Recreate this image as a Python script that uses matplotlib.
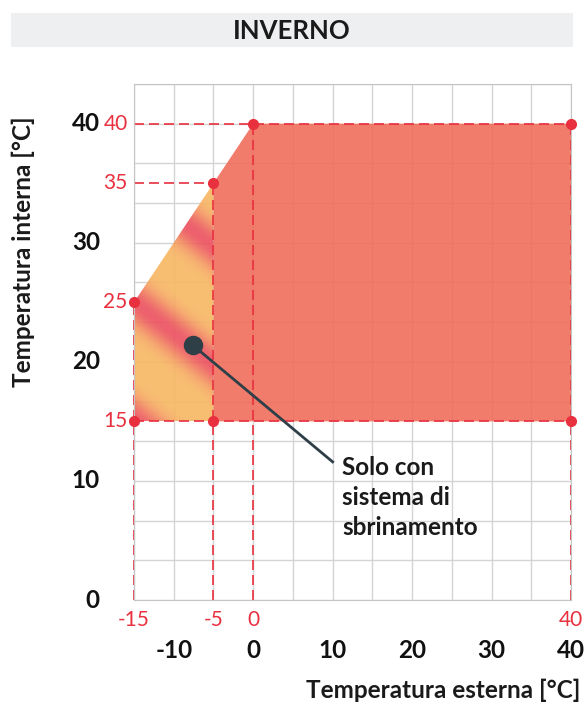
import numpy as np
import matplotlib.pyplot as plt
from matplotlib.patches import Polygon, Rectangle

plt.rcParams['font.family'] = ['Lato', 'DejaVu Sans']

# envelope of the working range (outdoor temp, indoor temp)
env_x = [-15, -15, -5, 0, 40, 40]
env_y = [15, 25, 35, 40, 40, 15]
# zone that needs defrost
defrost_x = [-15, -15, -5, -5]
defrost_y = [15, 25, 35, 15]
# corner points marked in red
pts_x = [-15, -5, 0, 40, 40, -5, -15]
pts_y = [25, 35, 40, 40, 15, 15, 15]
# tick labels
x_ticks = [-10, 0, 10, 20, 30, 40]
y_ticks = [0, 10, 20, 30, 40]
x_red = [-15, -5, 0, 40]
y_red = [40, 35, 25, 15]
# annotation
note_pt = (-7.6, 21.4)
note_end = (10.0, 11.6)
note_text = "Solo con\nsistema di\nsbrinamento"

red = '#E8303F'
dark = '#2E3F48'

fig = plt.figure(figsize=(5.85, 7.04), dpi=100)
ax = fig.add_axes([134 / 585, 104 / 704, 437 / 585, 516 / 704])
ax.set_xlim(-15, 40)
ax.set_ylim(0, 130 / 3)

# grid
for gx in np.arange(-15, 41, 5):
    ax.axvline(gx, color='#D4D4D4', lw=1, zorder=0)
for gy in np.arange(0, 130 / 3 + 0.1, 10 / 3):
    ax.axhline(gy, color='#D4D4D4', lw=1, zorder=0)
for s in ax.spines.values():
    s.set_color('#C4C4C4')
ax.set_xticks([])
ax.set_yticks([])

# main envelope (right part)
ax.add_patch(Polygon(list(zip(env_x[2:] + [-5], env_y[2:] + [15])),
                     closed=True, fc='#F06A58', alpha=0.88, ec='none', zorder=1))

# gradient in the defrost zone
gx, gy = np.meshgrid(np.linspace(-15, -5, 200), np.linspace(15, 35, 400))
p = 0.62 * (gx + 15) * 7.95 + 0.78 * gy * 11.9
t = (0.5 * (1 + np.cos(2 * np.pi * (p - 232) / 92))) ** 2.5
c_yel = np.array([248, 184, 98]) / 255
c_red = np.array([236, 78, 92]) / 255
img = c_yel + t[..., None] * (c_red - c_yel)
clip = Polygon(list(zip(defrost_x, defrost_y)), closed=True, fc='none', ec='none',
               transform=ax.transData)
ax.add_patch(clip)
im = ax.imshow(img, extent=[-15, -5, 15, 35], origin='lower', aspect='auto',
               alpha=0.9, zorder=1)
im.set_clip_path(clip)

# red dashed reference lines
ls = (0, (6, 3))
kw = dict(color=red, lw=1.2, ls=ls, zorder=2, clip_on=False)
ax.plot([-15, 40], [40, 40], **kw)
ax.plot([-15, -5], [35, 35], **kw)
ax.plot([-15, 40], [15, 15], **kw)
ax.plot([-15, -15], [0, 25], **kw)
ax.plot([-5, -5], [0, 35], **kw)
ax.plot([0, 0], [0, 40], **kw)
ax.plot([40, 40], [0, 40], **kw)
ax.plot(pts_x, pts_y, 'o', color=red, ms=7, ls='none', zorder=3, clip_on=False)

# annotation
ax.plot([note_pt[0], note_end[0]], [note_pt[1], note_end[1]], color=dark, lw=2, zorder=4)
ax.plot(*note_pt, 'o', color=dark, ms=13, zorder=5)
ax.text(11.2, 12.1, note_text, fontsize=17.5, fontweight='bold', color='#1A1A1A',
        va='top', ha='left', linespacing=1.36, zorder=5)

# tick labels
for v in x_ticks:
    ax.text(v, -4.2, str(v), fontsize=17.5, fontweight='bold', ha='center', va='center',
            color='#111111')
for v in x_red:
    ax.text(v, -1.7, str(v), fontsize=15, ha='center', va='center', color=red)
for v in y_ticks:
    ax.text(-19.3, v, str(v), fontsize=17.5, fontweight='bold', ha='right', va='center',
            color='#111111')
for v in y_red:
    ax.text(-15.8, v, str(v), fontsize=15, ha='right', va='center', color=red)

fig.text(580 / 585, 1 - 690 / 704, 'Temperatura esterna [°C]', fontsize=17.5,
         fontweight='bold', ha='right', va='center', color='#1A1A1A')
fig.text(23 / 585, 1 - 252 / 704, 'Temperatura interna [°C]', fontsize=17.5,
         fontweight='bold', ha='center', va='center', rotation=90, color='#1A1A1A')

# title bar
fig.patches.append(Rectangle((11 / 585, 1 - 47 / 704), 562 / 585, 34 / 704,
                             transform=fig.transFigure, fc='#EEEFF1', ec='none'))
fig.text(292 / 585, 1 - 31 / 704, 'INVERNO', fontsize=18.5, fontweight='bold',
         ha='center', va='center', color='#1A1A1A')

fig.savefig('out.png', dpi=100)
